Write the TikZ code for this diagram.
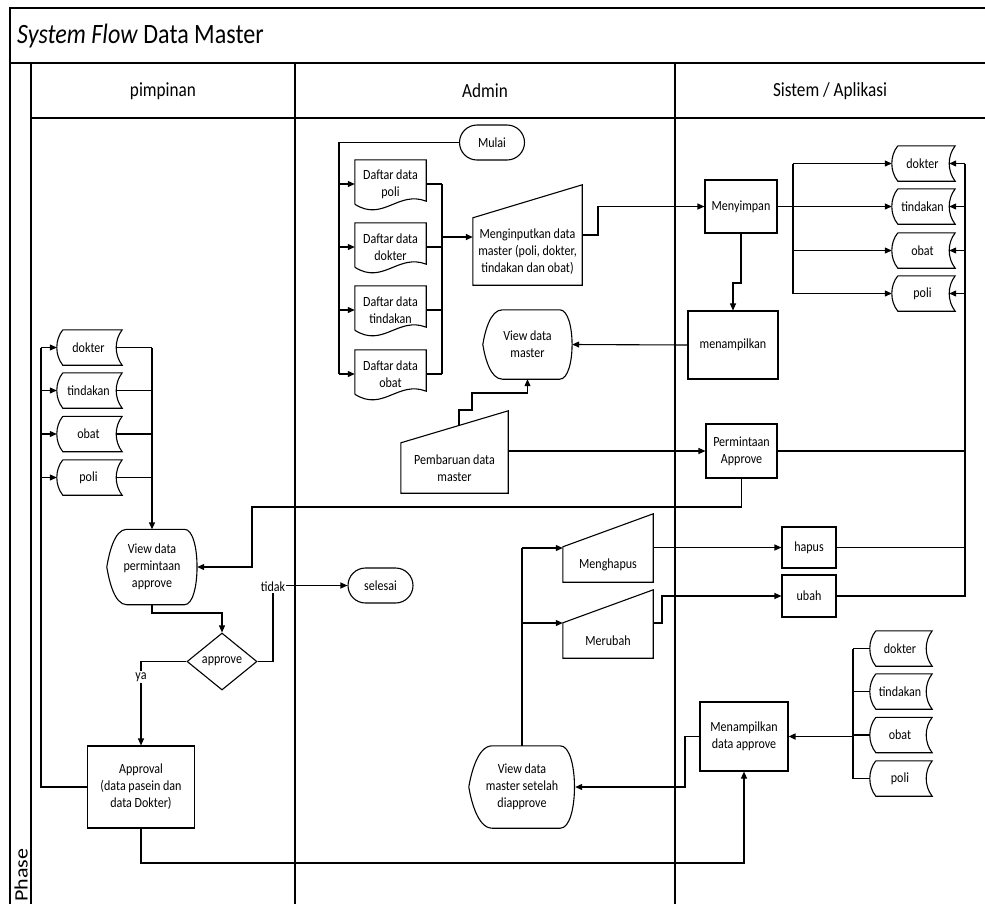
\documentclass[tikz,border=0pt]{standalone}
\usepackage{fontspec}
\setmainfont{Carlito}[FakeStretch=0.86]
\newfontfamily\phasefont{Carlito}
\usepackage{tikz}
\usetikzlibrary{positioning, shapes, arrows.meta, calc}
\tikzset{
  lanebox/.style={line width=1.4pt},
  procbox/.style={draw, line width=1.1pt, align=center, inner sep=1pt},
  termbox/.style={draw, line width=1.1pt, rounded rectangle, minimum width=67pt, minimum height=35pt, inner sep=1pt},
  shapenode/.style={align=center, inner sep=0pt},
  shp/.style={line width=1.1pt},
  conn/.style={line width=1.1pt},
  flow/.style={line width=1.1pt, -{Triangle[length=7pt,width=6pt]}},
  lbl/.style={fill=white, inner sep=1pt}}

\begin{document}
\begin{tikzpicture}[x=1pt, y=-1pt, font=\fontsize{14}{17}\selectfont]
  \useasboundingbox (0,0) rectangle (985,903);
  % lanes
  \draw[lanebox] (10,904) -- (10,8) -- (986,8);
  \draw[lanebox] (10,63) -- (986,63);
  \draw[lanebox] (31,118) -- (986,118);
  \draw[lanebox] (31,63) -- (31,904);
  \draw[lanebox] (295,63) -- (295,904);
  \draw[lanebox] (675,63) -- (675,904);
  \node[anchor=west, inner sep=0pt, font=\fontsize{28}{30}\selectfont] (title) at (17,36) {\textit{System Flow} Data Master};
  \node[font=\fontsize{20}{22}\selectfont] (hpim) at (163,91) {pimpinan};
  \node[font=\fontsize{20}{22}\selectfont] (hadm) at (485,91) {Admin};
  \node[font=\fontsize{20}{22}\selectfont] (hsis) at (830,91) {Sistem / Aplikasi};
  \node[rotate=90, anchor=base west, inner sep=0pt] (phase) at (27.5,902) {\phasefont\fontsize{22}{24}\selectfont\scalebox{1}[0.86]{Phase}};

  % pimpinan
  \foreach \n/\t/\y in {pdokter/dokter/347.5, ptindakan/tindakan/390.5, pobat/obat/434, ppoli/poli/477.5}
    \node[shapenode, minimum width=67pt, minimum height=35pt] (\n) at (88.5,\y) {\t};
  \node[shapenode, minimum width=90pt, minimum height=75pt] (vdperm) at (152,567) {View data\\permintaan\\approve};
  \node[draw, diamond, line width=1.1pt, minimum width=70pt, minimum height=57pt, inner sep=0pt, aspect=1.23] (appr) at (222,661.5) {approve};
  \node[procbox, minimum width=107pt, minimum height=82pt] (approval) at (141,787) {Approval\\(data pasein dan\\data Dokter)};
  \node[lbl] (ya) at (141,677) {ya};
  \node[lbl] (tidak) at (273,587) {tidak};

  % admin
  \node[termbox] (mulai) at (492,142.5) {Mulai};
  \node[termbox] (selesai) at (380.5,585.5) {selesai};
  \foreach \n/\t/\y in {dfpoli/poli/184, dfdokter/dokter/247, dftindakan/tindakan/310, dfobat/obat/374}
    \node[shapenode, minimum width=71pt, minimum height=48pt] (\n) at (390.5,\y) {Daftar data\\\t};
  \node[shapenode, minimum width=109pt, minimum height=67pt] (minput) at (527.5,251.5) {Menginputkan data\\master (poli, dokter,\\tindakan dan obat)};
  \node[shapenode, minimum width=89pt, minimum height=69pt] (vdmaster) at (527.5,344.5) {View data\\master};
  \node[shapenode, minimum width=107pt, minimum height=50pt] (pbaru) at (454.5,468) {Pembaruan data\\master};
  \node[shapenode, minimum width=90pt, minimum height=35pt] (mhapus) at (608,564.5) {Menghapus};
  \node[shapenode, minimum width=90pt, minimum height=35pt] (mrubah) at (608,640.5) {Merubah};
  \node[shapenode, minimum width=106pt, minimum height=82pt] (vdsetelah) at (522,787) {View data\\master setelah\\diapprove};

  % sistem
  \node[procbox, minimum width=72pt, minimum height=53pt] (menyimpan) at (741,206.5) {Menyimpan};
  \node[procbox, minimum width=90pt, minimum height=68pt] (menampilkan) at (733,345) {menampilkan};
  \node[procbox, minimum width=71pt, minimum height=54pt] (permintaan) at (741.5,451) {Permintaan\\Approve};
  \node[procbox, minimum width=54pt, minimum height=41pt] (hapus) at (809,547.5) {hapus};
  \node[procbox, minimum width=54pt, minimum height=42pt] (ubah) at (809,596) {ubah};
  \node[procbox, minimum width=88pt, minimum height=69pt] (mtpl) at (744,736.5) {Menampilkan\\data approve};
  \foreach \n/\t/\y in {sdokter/dokter/163.5, stindakan/tindakan/206.5, sobat/obat/250.5, spoli/poli/293.5}
    \node[shapenode, minimum width=65pt, minimum height=35pt] (\n) at (922.5,\y) {\t};
  \foreach \n/\t/\y in {adokter/dokter/648.5, atindakan/tindakan/691.5, aobat/obat/735, apoli/poli/778.5}
    \node[shapenode, minimum width=64pt, minimum height=35pt] (\n) at (900,\y) {\t};

  % outlines
  \foreach \n in {pdokter,ptindakan,pobat,ppoli,sdokter,stindakan,sobat,spoli,adokter,atindakan,aobat,apoli}
    \draw[shp] ($(\n.north west)+(8,0)$) -- (\n.north east)
      .. controls ($(\n.north east)+(-8,10)$) and ($(\n.south east)+(-8,-10)$) .. (\n.south east)
      -- ($(\n.south west)+(8,0)$)
      .. controls ($(\n.south west)+(0,-10)$) and ($(\n.north west)+(0,10)$) .. ($(\n.north west)+(8,0)$);
  \foreach \n in {dfpoli,dfdokter,dftindakan,dfobat}
    \draw[shp] ($(\n.south west)+(0,-4)$) -- (\n.north west) -- (\n.north east) -- ($(\n.south east)+(0,-7)$)
      .. controls ($(\n.south east)+(-28,-18)$) and ($(\n.south west)+(28,14)$) .. ($(\n.south west)+(0,-4)$);
  \foreach \n/\s in {minput/33, pbaru/32, mhapus/33, mrubah/33}
    \draw[shp] (\n.south west) -- (\n.north west) -- ($(\n.north east)+(0,-\s)$) -- (\n.south east) -- cycle;
  \foreach \n in {vdmaster,vdperm,vdsetelah}
    \draw[shp] ($(\n.north west)!0.22!(\n.north east)$) -- ($(\n.north west)!0.86!(\n.north east)$)
      .. controls ($(\n.north east)+(4,0)$) and ($(\n.south east)+(4,0)$) .. ($(\n.south west)!0.86!(\n.south east)$)
      -- ($(\n.south west)!0.22!(\n.south east)$)
      .. controls ($(\n.south west)!0.08!(\n.south east)$) and ($(\n.west)+(2,12)$) .. (\n.west)
      .. controls ($(\n.west)+(2,-12)$) and ($(\n.north west)!0.08!(\n.north east)$) .. ($(\n.north west)!0.22!(\n.north east)$);

  % admin input
  \coordinate (mbus) at (339,142.5);
  \coordinate (dbus) at (442,0);
  \draw[conn] (mulai.west) -- (mbus) -- (mbus |- dfobat.west);
  \foreach \n in {dfpoli,dfdokter,dftindakan,dfobat} {
    \draw[flow] (mbus |- \n.west) -- (\n.west);
    \draw[conn] (\n.east) -- (dbus |- \n.east);
  }
  \draw[conn] (dbus |- dfpoli.east) -- (dbus |- dfobat.east);
  \draw[flow, line width=1.6pt] (dbus |- 0,237) -- (minput.west |- 0,237);
  \draw[flow] (minput.east |- 0,235) -- (598,235) |- (menyimpan.west);

  % menyimpan
  \coordinate (sbus) at (793,0);
  \draw[conn, line width=1.6pt] (menyimpan.east) -- (sbus |- menyimpan.east);
  \draw[conn] (sbus |- sdokter.west) -- (sbus |- spoli.west);
  \foreach \n in {sdokter,stindakan,sobat,spoli}
    \draw[flow] (sbus |- \n.west) -- ([xshift=2]\n.west);
  \draw[flow] (menyimpan.south) |- (733,283) -- (menampilkan.north);
  \draw[flow] (menampilkan.west) -- (vdmaster.east);

  % pembaruan
  \draw[flow] ($(pbaru.north)+(4.5,-17)$) |- (472,410) |- (vdmaster.south |- 0,393) -- (vdmaster.south);
  \draw[flow] (pbaru.east |- permintaan.west) -- (permintaan.west);
  \coordinate (rbus) at (965,0);
  \draw[conn] (permintaan.east) -- (rbus |- permintaan.east);
  \draw[flow] (permintaan.south) |- (252,507) |- (vdperm.east);

  % pimpinan
  \coordinate (pbus) at (41,0);
  \coordinate (qbus) at (152,0);
  \draw[conn] (approval.west) -- (pbus |- approval.west) -- (pbus |- pdokter.west);
  \foreach \n in {pdokter,ptindakan,pobat,ppoli} {
    \draw[flow] (pbus |- \n.west) -- ([xshift=2]\n.west);
    \draw[conn] ([xshift=-6]\n.east) -- (qbus |- \n.east);
  }
  \draw[flow, line width=1.4pt] (qbus |- pdokter.east) -- (vdperm.north);
  \draw[flow] (vdperm.south) |- (appr.north |- 0,613) -- (appr.north);
  \draw[conn] (appr.east) -| (tidak.south);
  \draw[flow] (tidak.east |- selesai.west) -- (selesai.west);
  \draw[conn] (appr.west) -| (ya.north);
  \draw[flow] (ya.south) -- (approval.north);
  \draw[flow] (approval.south) |- (mtpl.south |- 0,863) -- (mtpl.south);

  % approve
  \coordinate (abus) at (853,0);
  \foreach \n in {adokter,atindakan,aobat,apoli}
    \draw[conn] ([xshift=2]\n.west) -- (abus |- \n.west);
  \draw[conn] (abus |- adokter.west) -- (abus |- apoli.west);
  \draw[flow, line width=1.6pt] (abus |- mtpl.east) -- (mtpl.east);
  \coordinate (mbend) at (685,0);
  \draw[flow] (mtpl.west) -- (mbend |- mtpl.west) |- (vdsetelah.east);

  % hapus / ubah
  \draw[conn] (vdsetelah.north) -- (vdsetelah.north |- 0,548);
  \draw[flow] (vdsetelah.north |- 0,548) -- (mhapus.west |- 0,548);
  \draw[flow] (vdsetelah.north |- 0,623) -- (mrubah.west |- 0,623);
  \draw[flow] (mhapus.east |- hapus.west) -- (hapus.west);
  \draw[flow] (mrubah.east |- 0,623) -- (662,623) |- (ubah.west);
  \draw[conn, line width=1.6pt] (hapus.east) -- (rbus |- hapus.east);
  \draw[conn, line width=1.6pt] (ubah.east) -- (rbus |- ubah.east) -- (rbus |- sdokter.east);
  \foreach \n in {sdokter,stindakan,sobat,spoli}
    \draw[flow] (rbus |- \n.east) -- ([xshift=-6]\n.east);
\end{tikzpicture}
\end{document}
